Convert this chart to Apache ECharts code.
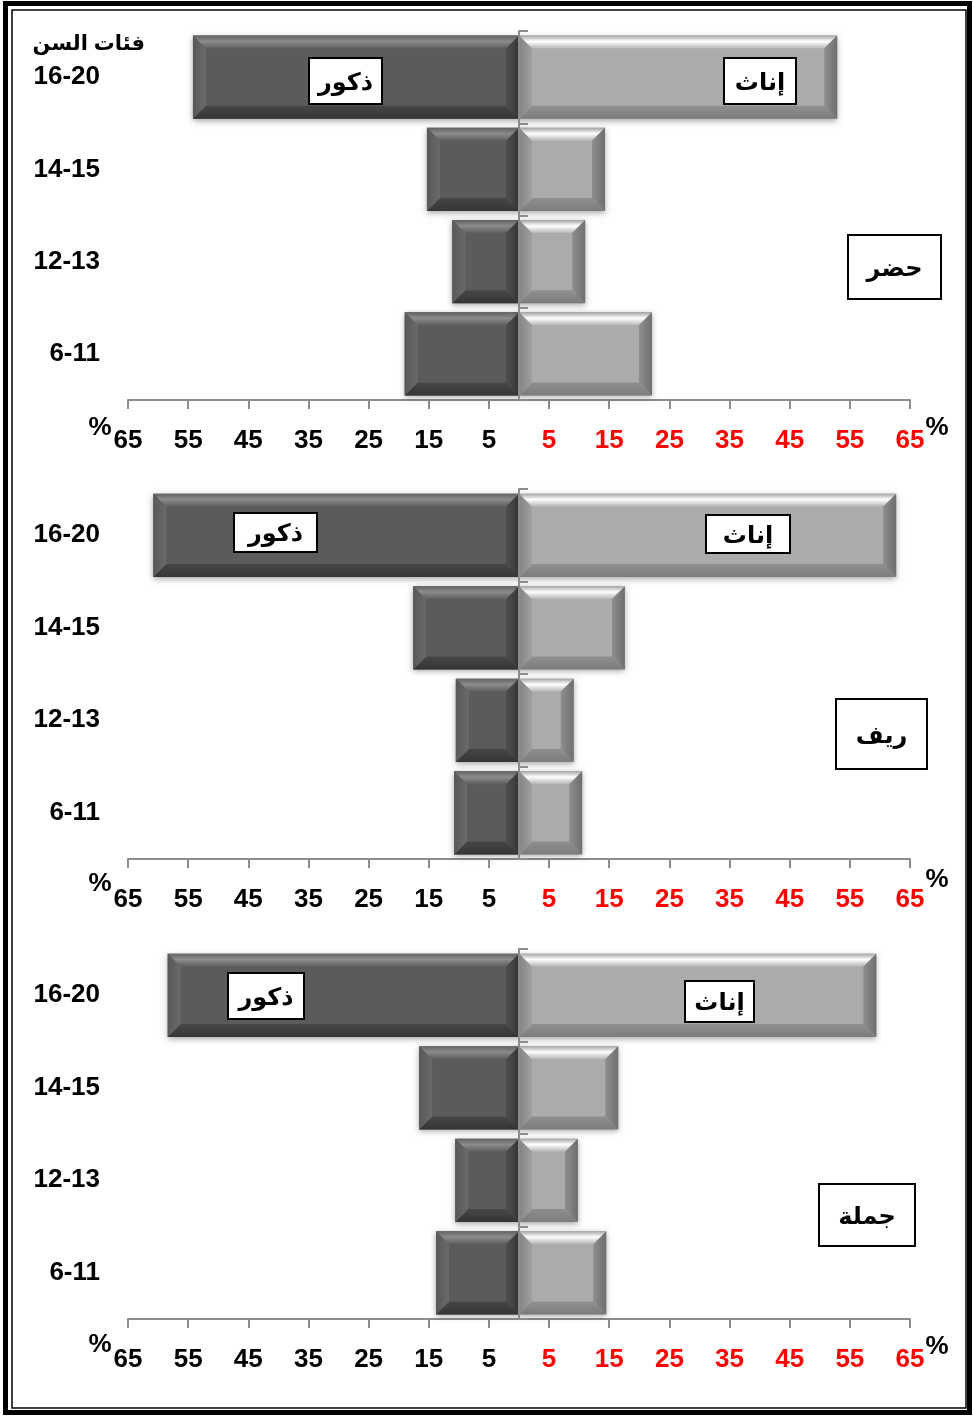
<!DOCTYPE html>
<html>
<head>
<meta charset="utf-8">
<script src="https://cdn.jsdelivr.net/npm/echarts@6/dist/echarts.min.js"></script>
<style>
  html, body { margin: 0; padding: 0; background: #fff; }
  #chart { width: 973px; height: 1416px; }
</style>
</head>
<body>
<div id="chart"></div>
<script>
// age groups, bottom to top
const ageGroups = ["6-11", "12-13", "14-15", "16-20"];
// percentages per age group (same order)
const urbanMale = [19.0, 11.1, 15.3, 54.2];
const urbanFemale = [22.1, 11.0, 14.3, 52.9];
const ruralMale = [10.8, 10.5, 17.6, 60.8];
const ruralFemale = [10.5, 9.1, 17.6, 62.7];
const totalMale = [13.8, 10.6, 16.6, 58.4];
const totalFemale = [14.5, 9.8, 16.5, 59.4];
const panelNames = ["حضر", "ريف", "جملة"];

const FONT = "'Liberation Sans', 'DejaVu Sans', sans-serif";
const panels = [
  { male: urbanMale, female: urbanFemale, top: 31, height: 369 },
  { male: ruralMale, female: ruralFemale, top: 489, height: 370 },
  { male: totalMale, female: totalFemale, top: 949, height: 370 },
];

const grad = (stops) =>
  new echarts.graphic.LinearGradient(0, 0, 0, 1, stops.map((s) => ({ offset: s[0], color: s[1] })));
const gradH = (stops) =>
  new echarts.graphic.LinearGradient(0, 0, 1, 0, stops.map((s) => ({ offset: s[0], color: s[1] })));

const maleStyle = {
  face: "#5b5b5b",
  top: grad([[0, "#626262"], [0.45, "#8c8c8c"], [1, "#5e5e5e"]]),
  bottom: grad([[0, "#474747"], [1, "#353535"]]),
  outer: gradH([[0, "#585858"], [1, "#6a6a6a"]]),
  inner: gradH([[0, "#4e4e4e"], [1, "#3a3a3a"]]),
};
const femaleStyle = {
  face: "#ababab",
  top: grad([[0, "#a4a4a4"], [0.45, "#ffffff"], [1, "#b4b4b4"]]),
  bottom: grad([[0, "#8f8f8f"], [1, "#7c7c7c"]]),
  outer: gradH([[0, "#8e8e8e"], [1, "#6f6f6f"]]),
  inner: gradH([[0, "#848484"], [1, "#a0a0a0"]]),
};

function bevelBar(st) {
  return function (params, api) {
    const v = api.value(0);
    const cat = api.value(1);
    const a = api.coord([0, cat]);
    const b = api.coord([v, cat]);
    const h = api.size([0, 1])[1] * 0.9;
    const x0 = Math.min(a[0], b[0]);
    const x1 = Math.max(a[0], b[0]);
    const y0 = a[1] - h / 2;
    const y1 = y0 + h;
    const s = Math.min(13, (x1 - x0) / 2, h / 2);
    const leftFill = v < 0 ? st.outer : st.inner;
    const rightFill = v < 0 ? st.inner : st.outer;
    return {
      type: "group",
      children: [
        { type: "rect", shape: { x: x0, y: y0, width: x1 - x0, height: h },
          style: { fill: st.face, shadowBlur: 6, shadowColor: "rgba(0,0,0,0.35)", shadowOffsetY: 2 } },
        { type: "polygon", shape: { points: [[x0, y0], [x1, y0], [x1 - s, y0 + s], [x0 + s, y0 + s]] }, style: { fill: st.top } },
        { type: "polygon", shape: { points: [[x0, y1], [x1, y1], [x1 - s, y1 - s], [x0 + s, y1 - s]] }, style: { fill: st.bottom } },
        { type: "polygon", shape: { points: [[x0, y0], [x0 + s, y0 + s], [x0 + s, y1 - s], [x0, y1]] }, style: { fill: leftFill } },
        { type: "polygon", shape: { points: [[x1, y0], [x1 - s, y0 + s], [x1 - s, y1 - s], [x1, y1]] }, style: { fill: rightFill } },
      ],
    };
  };
}

const grid = [], xAxis = [], yAxis = [], series = [];
panels.forEach((p, i) => {
  grid.push({ left: 128, right: 63, top: p.top, height: p.height });
  xAxis.push({
    type: "value", gridIndex: i, min: -65, max: 65, interval: 10,
    axisLine: { show: true, onZero: false, lineStyle: { color: "#8c8c8c", width: 2 } },
    axisTick: { show: true, length: 9, lineStyle: { color: "#8c8c8c", width: 2 } },
    splitLine: { show: false },
    axisLabel: {
      margin: 28, showMinLabel: true, showMaxLabel: true, hideOverlap: false,
      fontFamily: FONT, fontWeight: "bold", fontSize: 26, color: "#000",
      formatter: (v) => (v > 0 ? "{r|" + v + "}" : String(-v)),
      rich: { r: { color: "#ff0000", fontFamily: FONT, fontWeight: "bold", fontSize: 26 } },
    },
  });
  // labels on the left edge
  yAxis.push({
    type: "category", gridIndex: i, data: ageGroups,
    axisLine: { show: false, onZero: false }, axisTick: { show: false },
    axisLabel: { margin: 28, fontFamily: FONT, fontWeight: "bold", fontSize: 26, color: "#000" },
  });
  // centre line at zero
  yAxis.push({
    type: "category", gridIndex: i, data: ageGroups, position: "left", z: 10,
    axisLine: { show: true, onZero: true, lineStyle: { color: "#8c8c8c", width: 2 } },
    axisTick: { show: true, inside: true, length: 9, lineStyle: { color: "#8c8c8c", width: 2 } },
    axisLabel: { show: false },
  });
  series.push({
    type: "custom", xAxisIndex: i, yAxisIndex: i * 2, renderItem: bevelBar(maleStyle),
    encode: { x: 0, y: 1 }, data: p.male.map((v, k) => [-v, k]),
  });
  series.push({
    type: "custom", xAxisIndex: i, yAxisIndex: i * 2, renderItem: bevelBar(femaleStyle),
    encode: { x: 0, y: 1 }, data: p.female.map((v, k) => [v, k]),
  });
});

function textBox(x, y, w, h, txt, size) {
  return {
    type: "group", left: x, top: y, z: 100,
    children: [
      { type: "rect", z: 100, shape: { x: 0, y: 0, width: w, height: h }, style: { fill: "#fff", stroke: "#000", lineWidth: 2 } },
      { type: "text", z: 101, x: w / 2, y: h / 2 + 2,
        style: { text: txt, fill: "#000", font: "bold " + size + "px " + FONT, align: "center", verticalAlign: "middle" } },
    ],
  };
}
function plainText(x, y, txt, size, align) {
  return { type: "text", x: x, y: y, z: 100,
    style: { text: txt, fill: "#000", font: "bold " + size + "px " + FONT, align: align || "center", verticalAlign: "middle" } };
}

const graphic = [
  // frame
  { type: "rect", shape: { x: 5.5, y: 3.5, width: 964, height: 1409 }, style: { fill: null, stroke: "#000", lineWidth: 5 }, silent: true },
  { type: "rect", shape: { x: 12, y: 10, width: 954, height: 1398 }, style: { fill: null, stroke: "#000", lineWidth: 1.5 }, silent: true },
  plainText(145, 44, "فئات السن", 21, "right"),
  // males / females tags
  textBox(308, 57, 73, 46, "ذكور", 24),
  textBox(723, 57, 72, 46, "إناث", 24),
  textBox(233, 512, 83, 39, "ذكور", 24),
  textBox(705, 514, 84, 38, "إناث", 24),
  textBox(227, 972, 76, 46, "ذكور", 24),
  textBox(684, 980, 69, 41, "إناث", 24),
  // region boxes
  textBox(847, 234, 93, 64, panelNames[0], 24),
  textBox(835, 698, 91, 70, panelNames[1], 24),
  textBox(818, 1183, 96, 62, panelNames[2], 24),
  // percent signs
  plainText(100, 428, "%", 26), plainText(937, 428, "%", 26),
  plainText(100, 884, "%", 26), plainText(937, 880, "%", 26),
  plainText(100, 1345, "%", 26), plainText(937, 1347, "%", 26),
];

const chart = echarts.init(document.getElementById("chart"));
chart.setOption({
  animation: false,
  backgroundColor: "#fff",
  grid: grid,
  xAxis: xAxis,
  yAxis: yAxis,
  series: series,
  graphic: graphic,
});
</script>
</body>
</html>
